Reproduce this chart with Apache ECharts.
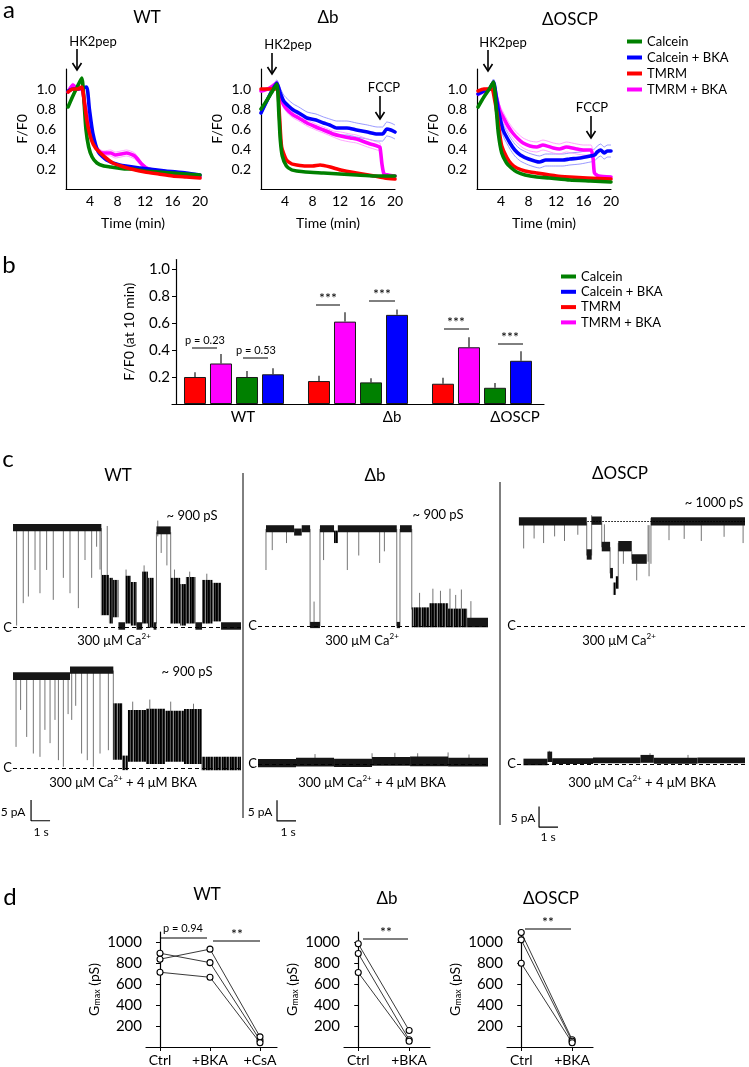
<!DOCTYPE html>
<html><head><meta charset="utf-8">
<script src="https://cdn.jsdelivr.net/npm/echarts@6/dist/echarts.min.js"></script>
<style>html,body{margin:0;padding:0;background:#fff}#c{width:749px;height:1067px}</style>
</head><body><div id="c"></div>
<script>
const F = 'Lato, "Open Sans", "DejaVu Sans", sans-serif';
// ---------- panel a : F/F0 time courses ----------
const aNames = ['Calcein', 'Calcein + BKA', 'TMRM', 'TMRM + BKA'];
const aTimeTicks = [4, 8, 12, 16, 20];
const aFTicks = [0.2, 0.4, 0.6, 0.8, 1.0];
const wtCalcein = [[0.8,0.82],[1.5,0.93],[2.2,1.03],[2.8,1.11],[3.1,0.9],[3.4,0.6],[3.8,0.42],[4.3,0.32],[5,0.26],[6,0.23],[7,0.22],[8,0.21],[9,0.2],[10,0.2],[12,0.18],[14,0.17],[16,0.16],[18,0.15],[20,0.14]];
const wtCalceinBKA = [[0.8,0.98],[1.5,1.0],[2.2,1.0],[2.8,1.01],[3.5,1.02],[3.9,0.8],[4.4,0.56],[5.2,0.37],[6.4,0.29],[8.3,0.24],[11.3,0.21],[15,0.18],[18,0.16],[20,0.14]];
const wtTMRM = [[0.8,0.97],[1.5,1.0],[2.2,1.0],[2.8,1.02],[3.2,0.85],[3.6,0.66],[4.2,0.49],[4.8,0.41],[5.5,0.36],[6.5,0.3],[7.3,0.26],[8.5,0.23],[10,0.2],[12,0.17],[14,0.15],[16,0.13],[18,0.12],[20,0.11]];
const wtTMRMBKA = [[0.8,0.97],[1.5,1.04],[2.2,1.0],[2.8,1.0],[3.3,0.82],[4,0.6],[4.6,0.45],[5.3,0.38],[6,0.36],[7,0.36],[7.7,0.34],[8.5,0.35],[9.3,0.36],[10.5,0.33],[11.5,0.25],[12.5,0.2],[14,0.18],[16,0.16],[18,0.14],[20,0.12]];
const wtTMRMBKAsem = [0.01,0.02,0.01,0.01,0.02,0.02,0.02,0.02,0.02,0.03,0.03,0.03,0.03,0.03,0.02,0.01,0.01,0.01,0.01,0.01];
const dbCalcein = [[0.5,0.8],[1.2,0.87],[2,0.96],[2.8,1.05],[3.1,0.75],[3.3,0.5],[3.6,0.33],[4.2,0.23],[5,0.19],[5.7,0.18],[7,0.17],[9.6,0.16],[12,0.15],[14.4,0.14],[17,0.13],[20,0.13]];
const dbCalceinBKA = [[0.5,0.76],[1.2,0.86],[2,0.97],[2.8,1.06],[3.3,0.96],[3.8,0.88],[4.5,0.83],[5.2,0.79],[6,0.76],[7.2,0.71],[8.5,0.69],[9.6,0.66],[10.5,0.64],[11.5,0.61],[13,0.61],[14.4,0.59],[16,0.57],[17.4,0.55],[18.2,0.55],[18.8,0.6],[19.4,0.59],[20,0.57]];
const dbCalceinBKAsem = [0.02,0.03,0.03,0.03,0.05,0.06,0.06,0.06,0.06,0.06,0.06,0.06,0.06,0.07,0.07,0.07,0.07,0.07,0.07,0.07,0.07,0.07];
const dbTMRM = [[0.5,1.0],[1.5,1.0],[2.5,1.0],[2.9,1.0],[3.2,0.72],[3.5,0.42],[4.2,0.29],[5,0.25],[5.7,0.24],[7,0.23],[8,0.23],[9.1,0.24],[10.6,0.22],[12.1,0.19],[14.4,0.16],[17,0.13],[18.5,0.11],[20,0.1]];
const dbTMRMBKA = [[0.5,0.98],[1.5,1.0],[2.2,1.03],[2.8,1.06],[3.3,0.93],[3.8,0.84],[4.5,0.78],[5.2,0.74],[6,0.71],[7.2,0.66],[8.5,0.62],[9.6,0.59],[11,0.55],[12.1,0.53],[13.5,0.51],[14.4,0.5],[16,0.46],[17.4,0.43],[17.8,0.42],[18.1,0.25],[18.4,0.15],[19,0.14],[20,0.13]];
const dbTMRMBKAsem = [0.01,0.01,0.02,0.02,0.03,0.03,0.03,0.03,0.03,0.03,0.03,0.03,0.03,0.04,0.04,0.04,0.04,0.04,0.04,0.03,0.01,0.01,0.01];
const oscCalcein = [[0.65,0.82],[1.5,0.92],[2.3,1.0],[2.9,1.07],[3.3,0.8],[3.6,0.56],[4.1,0.36],[4.8,0.26],[5.5,0.21],[6.3,0.17],[7.5,0.14],[9.2,0.12],[11,0.11],[14,0.09],[17,0.08],[20,0.07]];
const oscCalceinBKA = [[0.65,0.95],[1.5,0.98],[2.3,1.0],[2.9,1.07],[3.3,0.92],[3.6,0.79],[4.3,0.59],[5.3,0.46],[6,0.39],[6.8,0.34],[8,0.3],[9.6,0.27],[10.5,0.29],[11.6,0.29],[13,0.29],[14,0.3],[15.5,0.31],[17,0.33],[17.6,0.34],[18,0.37],[18.5,0.39],[19,0.36],[19.5,0.38],[20,0.38]];
const oscCalceinBKAsem = [0.02,0.02,0.02,0.03,0.04,0.05,0.06,0.06,0.06,0.06,0.06,0.06,0.06,0.06,0.06,0.06,0.06,0.06,0.06,0.06,0.06,0.06,0.06,0.06];
const oscTMRM = [[0.65,0.98],[1.5,1.0],[2.3,1.0],[2.7,1.0],[3.1,0.88],[3.4,0.76],[3.8,0.55],[4.1,0.43],[4.8,0.32],[5.5,0.25],[6.3,0.21],[7.5,0.18],[9.2,0.16],[12.1,0.13],[14,0.12],[16.5,0.11],[20,0.1]];
const oscTMRMBKA = [[0.65,0.95],[1.5,0.98],[2.3,1.0],[2.9,1.05],[3.3,0.93],[3.8,0.79],[4.3,0.72],[5,0.63],[5.7,0.56],[6.5,0.5],[7.2,0.46],[8.2,0.43],[9.2,0.42],[10.1,0.44],[11.6,0.41],[12.5,0.4],[13.5,0.42],[15,0.4],[16,0.39],[17.1,0.39],[17.4,0.3],[17.6,0.16],[18.2,0.13],[20,0.12]];
const oscTMRMBKAsem = [0.02,0.02,0.02,0.03,0.04,0.05,0.05,0.05,0.05,0.05,0.05,0.05,0.05,0.05,0.05,0.05,0.05,0.05,0.05,0.05,0.03,0.01,0.01,0.01];

// ---------- panel b : F/F0 at 10 min ----------
const bGroups = ['WT', 'Δb', 'ΔOSCP'];
const bSeriesNames = ['TMRM', 'TMRM + BKA', 'Calcein', 'Calcein + BKA'];
const bTMRM = [0.20, 0.17, 0.15];
const bTMRMerr = [0.035, 0.04, 0.045];
const bTMRMBKA = [0.30, 0.61, 0.42];
const bTMRMBKAerr = [0.07, 0.07, 0.075];
const bCalcein = [0.20, 0.16, 0.12];
const bCalceinErr = [0.045, 0.03, 0.035];
const bCalceinBKA = [0.22, 0.66, 0.32];
const bCalceinBKAerr = [0.045, 0.04, 0.07];
const bTicks = [0.2, 0.4, 0.6, 0.8, 1.0];

// ---------- panel c : single-channel traces (time s, current pA) ----------
// bands: [t0, t1, low, high] dense/noisy current levels; spikes: [t, from, to]
const wtTopBands = [[0,4.65,23.2,25.0],[4.65,5.05,3.0,12.7],[5.05,5.25,1.0,12.0],[5.25,5.55,2.5,11.5],[5.55,5.9,-0.5,1.3],[5.9,6.2,1.0,12.5],[6.2,6.5,0.5,11.0],[6.5,6.8,-0.5,1.3],[6.8,7.1,1.0,13.5],[7.1,7.4,0.0,12.0],[7.4,7.55,-0.5,1.3],[7.55,8.3,22.5,24.4],[8.3,8.8,1.0,12.0],[8.8,9.1,0.5,10.5],[9.1,9.6,1.0,12.2],[9.6,9.95,-0.5,1.3],[9.95,10.5,1.0,11.5],[10.5,10.95,1.5,10.8],[10.95,12,-0.5,1.3]];
const wtTopSpikes = [[0.19,24,0.5],[0.54,24,5.9],[0.81,24,7.5],[1.16,24,13.9],[1.42,24,8.3],[1.77,24,13.9],[2.12,24,6.7],[2.65,24,12],[3.0,24,8.3],[3.44,24,4.7],[3.79,24,16.3],[4.14,24,12],[4.4,24,19.5],[4.58,24,14],[4.65,24,3],[4.96,24.5,10],[5.95,14,1],[6.9,15,2],[7.55,1,23],[7.62,25.8,22],[7.8,23,18],[8.1,23,15],[8.3,23,1],[8.5,14,1],[9.3,13.5,1],[10.2,13,1]];
const wtBotBands = [[0,3.0,21.2,23.1],[3.0,5.28,22.7,24.5],[5.28,5.75,2.0,15.6],[5.75,6.05,-0.5,3.0],[6.05,7.0,1.5,14.0],[7.0,8.0,1.0,14.3],[8.0,9.0,1.5,13.8],[9.0,9.93,1.0,14.2],[9.93,12,-0.5,2.7]];
const wtBotSpikes = [[0.16,22,5.1],[0.4,22,14],[0.72,22,7.5],[1.07,22,3.5],[1.42,22,2.7],[1.68,22,9.2],[1.95,22,6],[2.21,22,11.6],[2.39,22,1.9],[2.65,22,0.3],[2.9,22,13],[3.09,23.5,11.6],[3.3,23,15],[3.61,23.5,3.5],[3.91,23.5,1.9],[4.23,23.5,0.3],[4.58,23.5,3.5],[5.02,23.5,4.3],[5.28,23.5,2],[6.3,16,2],[7.2,16.5,2],[8.3,16,2],[9.5,15.5,2]];
const dbTopBands = [[0.42,1.9,22.6,24.3],[1.9,2.3,21.8,23.5],[2.3,2.74,22.6,24.3],[2.74,3.26,-0.5,1.0],[3.26,4.0,22.6,24.3],[4.0,4.2,20.0,23.0],[4.2,7.3,22.6,24.3],[7.3,7.47,-0.5,1.0],[7.47,8.09,22.6,24.3],[8.09,9.0,-0.3,4.5],[9.0,10.0,-0.3,5.5],[10.0,11.0,-0.3,4.2],[11.0,12.1,-0.3,2.0]];
const dbTopSpikes = [[0.42,23.4,13.5],[0.75,23,18.3],[1.5,23,20],[2.74,23.4,0],[2.95,0,5.9],[3.26,0,23.4],[3.45,23,15.9],[4.7,23,13.5],[5.3,23,17],[6.4,23,15.2],[6.65,23,18],[7.3,23.4,0],[7.47,0,23.4],[8.09,23.4,4],[8.5,8,0],[9.2,9,0],[9.6,8.5,0],[10.1,9,0],[10.4,7.5,0],[10.7,8.8,0],[11.2,6,0]];
const dbBotBands = [[0,2,-0.8,1.2],[2,4,-0.6,1.5],[4,6,-0.7,1.3],[6,8,-0.4,1.7],[8,10,-0.5,1.8],[10,12.1,-0.6,1.5]];
const dbBotSpikes = [[3,1.3,2.4],[6,1.3,2.6],[7.2,1.3,2.7],[8.4,1.3,2.6],[10,1.3,2.8],[11.1,1.3,2.3]];
const oscTopBands = [[0.1,3.67,24.2,26.2],[3.67,3.93,16.0,18.5],[3.93,4.46,24.4,26.4],[4.46,4.9,18.0,20.3],[4.9,5.05,11.5,14.0],[5.05,5.2,7.5,10.5],[5.2,5.33,9.0,12.0],[5.33,6.04,18.0,20.5],[6.04,6.83,15.0,17.3],[7.05,12,24.2,26.2]];
const oscTopSpikes = [[0.35,25,18.7],[0.9,25,21.1],[1.4,25,20],[1.98,25,21.6],[2.5,25,20.5],[3.2,25,22],[3.67,25,17],[3.93,17,26.7],[4.46,25,19],[4.6,19,24.5],[4.9,19,12.7],[5.33,9,20],[5.6,18.5,15],[6.04,18,16],[6.3,15,11],[6.9,15.5,24.3],[6.95,24.3,12],[7.05,15,26],[8.0,25,20.7],[8.8,25,21],[9.7,25,20.5],[10.9,25,21.5],[11.9,25,20]];
const oscOpenLevel = [3.7, 12, 25.3];
const oscBotBands = [[0.34,1.6,-0.3,1.3],[1.6,1.85,0.5,3.0],[1.85,4,0,1.4],[4,6.5,0.2,1.6],[6.5,7.2,0.3,2.2],[7.2,9.5,0.1,1.5],[9.5,12,0.2,1.6]];
const oscBotSpikes = [[1.7,2.5,3.2],[7.0,1.8,2.6],[9.0,1.3,2.2]];
const scaleBarPA = 5, scaleBarS = 1;
const wtScaleAnchor = [0.95, -7.7];
const dbScaleAnchor = [1.0, -8.7];
const oscScaleAnchor = [1.16, -10.2];

// ---------- panel d : Gmax ----------
const dCatsWT = ['Ctrl', '+BKA', '+CsA'];
const dCats = ['Ctrl', '+BKA'];
const dTicks = [200, 400, 600, 800, 1000];
const dWTctrl = [897, 840, 715];
const dWTbka = [807, 936, 667];
const dWTcsa = [65, 97, 40];
const dDbCtrl = [987, 895, 713];
const dDbBka = [158, 70, 55];
const dOscCtrl = [1095, 1025, 801];
const dOscBka = [70, 55, 40];

// ================= build =================
const COL = {'Calcein':'#008000','Calcein + BKA':'#0000ff','TMRM':'#ff0000','TMRM + BKA':'#ff00ff'};
const SEMCOL = {'Calcein + BKA':'#7f7fff','TMRM + BKA':'#ff8cff'};
const grids = [], xAxes = [], yAxes = [], series = [];
const black = '#000';
function baseAxis(extra){ return Object.assign({axisLine:{show:true,lineStyle:{color:black,width:1.2}}, splitLine:{show:false}, nameMoveOverlap:false}, extra); }

// striped texture for noisy current bands (style only)
const tex = document.createElement('canvas');
tex.width = 8; tex.height = 2;
(function(){ const c = tex.getContext('2d'); const cols = ['#000','#111','#555','#000','#222','#8a8a8a','#000','#333'];
  cols.forEach((col,i)=>{ c.fillStyle = col; c.fillRect(i,0,1,2); }); })();
const texFill = {image:tex, repeat:'repeat'};

// panel a
const aPanels = [
  {left:66, d:{'Calcein':wtCalcein,'Calcein + BKA':wtCalceinBKA,'TMRM':wtTMRM,'TMRM + BKA':wtTMRMBKA}, sem:{'TMRM + BKA':wtTMRMBKAsem}, order:['TMRM + BKA','Calcein + BKA','Calcein','TMRM']},
  {left:261, d:{'Calcein':dbCalcein,'Calcein + BKA':dbCalceinBKA,'TMRM':dbTMRM,'TMRM + BKA':dbTMRMBKA}, sem:{'Calcein + BKA':dbCalceinBKAsem,'TMRM + BKA':dbTMRMBKAsem}, order:['TMRM + BKA','Calcein + BKA','TMRM','Calcein']},
  {left:477, d:{'Calcein':oscCalcein,'Calcein + BKA':oscCalceinBKA,'TMRM':oscTMRM,'TMRM + BKA':oscTMRMBKA}, sem:{'Calcein + BKA':oscCalceinBKAsem,'TMRM + BKA':oscTMRMBKAsem}, order:['TMRM + BKA','Calcein + BKA','TMRM','Calcein']}
];
aPanels.forEach((p, i) => {
  const g = grids.length;
  grids.push({left:p.left, top:69, width:134, height:120, outerBoundsMode:'none'});
  xAxes.push(baseAxis({type:'value', gridIndex:g, min:0.5, max:20, axisTick:{show:false},
    axisLabel:{customValues:aTimeTicks, color:black, fontSize:14, fontFamily:F, margin:5},
    name:'Time (min)', nameLocation:'middle', nameGap:27, nameTextStyle:{color:black, fontSize:14, fontFamily:F}}));
  yAxes.push(baseAxis({type:'value', gridIndex:g, min:0, max:1.2, axisTick:{show:false},
    axisLabel:{customValues:aFTicks, color:black, fontSize:14, fontFamily:F, margin:10, formatter:v=>v.toFixed(1)},
    name:'F/F0', nameLocation:'middle', nameRotate:90, nameGap:37, nameTextStyle:{color:black, fontSize:14, fontFamily:F}}));
  Object.keys(p.sem).forEach(n => {
    const sem = p.sem[n];
    ['up','lo'].forEach(k => series.push({type:'line', name:n+' sem', xAxisIndex:g, yAxisIndex:g, showSymbol:false, silent:true, smooth:0.2, z:1,
      lineStyle:{width:0.8, color:SEMCOL[n]}, data:p.d[n].map((pt,j)=>[pt[0], k==='up'? pt[1]+sem[j] : pt[1]-sem[j]])}));
  });
  p.order.forEach((n, k) => series.push({type:'line', name:n, xAxisIndex:g, yAxisIndex:g, showSymbol:false, smooth:0.2, color:COL[n], z:3+k,
    lineStyle:{width:3.6, color:COL[n], cap:'round', join:'round'}, data:p.d[n]}));
});

// panel b
const gb = grids.length;
const bLabelShift = [9, 34, 33];
grids.push({left:172, top:259.5, width:372, height:144.5, outerBoundsMode:'none'});
xAxes.push(baseAxis({type:'category', gridIndex:gb, axisTick:{show:false},
  data:bGroups.map((n,i)=>({value:n, textStyle:{padding:[0,0,0,2*bLabelShift[i]]}})),
  axisLabel:{color:black, fontSize:15, fontFamily:F, margin:6}}));
yAxes.push(baseAxis({type:'value', gridIndex:gb, min:0, max:1.07, offset:-4,
  axisTick:{show:true, length:4, customValues:bTicks, lineStyle:{color:black}},
  axisLabel:{customValues:bTicks, color:black, fontSize:15, fontFamily:F, margin:6, formatter:v=>v.toFixed(1)},
  name:'F/F0 (at 10 min)', nameLocation:'middle', nameRotate:90, nameGap:40, nameTextStyle:{color:black, fontSize:14, fontFamily:F}}));
const bVals = {'TMRM':[bTMRM,bTMRMerr], 'TMRM + BKA':[bTMRMBKA,bTMRMBKAerr], 'Calcein':[bCalcein,bCalceinErr], 'Calcein + BKA':[bCalceinBKA,bCalceinBKAerr]};
const barW = 22, barGapPx = 4;
const errData = [];
bSeriesNames.forEach((n, si) => {
  series.push({type:'bar', name:n, xAxisIndex:gb, yAxisIndex:gb, data:bVals[n][0], barWidth:barW, barGap:(barGapPx/barW*100).toFixed(1)+'%',
    color:COL[n], itemStyle:{color:COL[n], borderColor:'#1a1a1a', borderWidth:1}});
  bVals[n][0].forEach((v, ci) => errData.push([ci, si, v, bVals[n][1][ci]]));
});
series.push({type:'custom', xAxisIndex:gb, yAxisIndex:gb, data:errData, encode:{x:0, y:2}, z:1, silent:true,
  renderItem:(params, api) => {
    const base = api.coord([api.value(0), api.value(2)]);
    const top = api.coord([api.value(0), api.value(2) + api.value(3)]);
    const x = base[0] + (api.value(1) - 1.5) * (barW + barGapPx);
    return {type:'line', shape:{x1:x, y1:base[1], x2:x, y2:top[1]}, style:{stroke:'#1a1a1a', lineWidth:1.2}};
  }});

// panel c
const pxPerPA = 4.15;
const cPanels = [
  {left:13, top:515.6, w:228, xmax:12, ymin:-3, bands:wtTopBands, spikes:wtTopSpikes},
  {left:13, top:656, w:228, xmax:12, ymin:-16, bands:wtBotBands, spikes:wtBotSpikes, scale:wtScaleAnchor},
  {left:258, top:514, w:230, xmax:12.1, ymin:-3, bands:dbTopBands, spikes:dbTopSpikes},
  {left:258, top:652, w:230, xmax:12.1, ymin:-16, bands:dbBotBands, spikes:dbBotSpikes, scale:dbScaleAnchor},
  {left:517, top:514, w:228, xmax:12, ymin:-3, bands:oscTopBands, spikes:oscTopSpikes, dotted:oscOpenLevel},
  {left:517, top:652, w:228, xmax:12, ymin:-16, bands:oscBotBands, spikes:oscBotSpikes, scale:oscScaleAnchor}
];
cPanels.forEach(p => {
  const g = grids.length;
  const ymax = 27;
  grids.push({left:p.left, top:p.top, width:p.w, height:(ymax - p.ymin) * pxPerPA, outerBoundsMode:'none'});
  xAxes.push({type:'value', gridIndex:g, min:0, max:p.xmax, show:false});
  yAxes.push({type:'value', gridIndex:g, min:p.ymin, max:ymax, show:false});
  series.push({type:'custom', xAxisIndex:g, yAxisIndex:g, data:p.bands, encode:{x:[0,1], y:[2,3]}, silent:true, z:3,
    renderItem:(params, api) => {
      const a = api.coord([api.value(0), api.value(3)]);
      const b = api.coord([api.value(1), api.value(2)]);
      const h = b[1] - a[1];
      return {type:'rect', shape:{x:a[0], y:a[1], width:Math.max(b[0]-a[0], 1), height:Math.max(h, 1)}, style:{fill: h > 12 ? texFill : '#161616'}};
    },
    markLine:{silent:true, symbol:['none','none'], animation:false,
      lineStyle:{type:[4,3], color:black, width:1},
      label:{show:true, position:'start', formatter:'C', color:black, fontSize:13, fontFamily:F, distance:1},
      data:[{yAxis:0}]}});
  const sp = {type:'custom', xAxisIndex:g, yAxisIndex:g, data:p.spikes, encode:{x:0, y:[1,2]}, silent:true, z:2,
    renderItem:(params, api) => {
      const a = api.coord([api.value(0), api.value(1)]);
      const b = api.coord([api.value(0), api.value(2)]);
      return {type:'line', shape:{x1:a[0], y1:a[1], x2:a[0], y2:b[1]}, style:{stroke:'#666', lineWidth:0.9}};
    }};
  if (p.dotted) sp.markLine = {silent:true, symbol:['none','none'], animation:false, label:{show:false},
    lineStyle:{type:[1.5,1.5], color:black, width:1},
    data:[[{coord:[p.dotted[0], p.dotted[2]]}, {coord:[p.dotted[1], p.dotted[2]]}]]};
  series.push(sp);
  if (p.scale) {
    const [t, y] = p.scale;
    series.push({type:'line', xAxisIndex:g, yAxisIndex:g, showSymbol:false, silent:true, clip:false,
      lineStyle:{color:black, width:1.2}, data:[[t, y], [t, y - scaleBarPA], [t + scaleBarS, y - scaleBarPA]]});
  }
});

// panel d
const dPanels = [
  {left:146, w:131, max:2.34, cats:dCatsWT, subj:[dWTctrl, dWTbka, dWTcsa]},
  {left:344, w:86, max:1.41, cats:dCats, subj:[dDbCtrl, dDbBka]},
  {left:507, w:86, max:1.41, cats:dCats, subj:[dOscCtrl, dOscBka]}
];
dPanels.forEach(p => {
  const g = grids.length;
  grids.push({left:p.left, top:932, width:p.w, height:115, outerBoundsMode:'none'});
  const idx = p.cats.map((c, i) => i);
  xAxes.push(baseAxis({type:'value', gridIndex:g, min:-0.28, max:p.max,
    axisTick:{show:true, length:4, customValues:idx, lineStyle:{color:black}},
    axisLabel:{customValues:idx, formatter:v=>p.cats[Math.round(v)], color:black, fontSize:14, fontFamily:F, margin:6}}));
  yAxes.push(baseAxis({type:'value', gridIndex:g, min:0, max:1100,
    axisTick:{show:true, length:4, customValues:dTicks, lineStyle:{color:black}},
    axisLabel:{customValues:dTicks, formatter:v=>String(v), color:black, fontSize:15, fontFamily:F, margin:4},
    name:'{n|G}{s|max}{n| (pS)}', nameLocation:'middle', nameRotate:90, nameGap:44,
    nameTextStyle:{color:black, fontFamily:F, fontSize:14, rich:{n:{fontSize:14, fontFamily:F, color:black}, s:{fontSize:9, fontFamily:F, color:black, verticalAlign:'bottom', lineHeight:16}}}}));
  p.subj[0].forEach((v, k) => {
    series.push({type:'line', xAxisIndex:g, yAxisIndex:g, symbol:'circle', symbolSize:6, showSymbol:true, silent:true, z:4,
      itemStyle:{color:'#fff', borderColor:black, borderWidth:1.1},
      lineStyle:{color:'#222', width:0.9},
      data:p.subj.map((arr, ci) => [ci, arr[k]])});
  });
});

// ---------- annotations ----------
function T(x, y, text, size, extra){ return {type:'text', x, y, silent:true, style:Object.assign({text, fontSize:size, fontFamily:F, fill:black, align:'center', verticalAlign:'middle'}, extra||{})}; }
function L(x1, y1, x2, y2, w){ return {type:'line', silent:true, shape:{x1,y1,x2,y2}, style:{stroke:black, lineWidth:w||1}}; }
function arrow(x, y1, y2){ return {type:'group', silent:true, children:[L(x,y1,x,y2,1.6), {type:'polyline', shape:{points:[[x-4.5,y2-7],[x,y2],[x+4.5,y2-7]]}, style:{stroke:black, lineWidth:1.6, fill:null}}]}; }
const supRich = {s:{fontSize:8, fontFamily:F, fill:black, verticalAlign:'top'}, n:{fontSize:13, fontFamily:F, fill:black}};
function CA(x, y, withBKA){ return T(x, y, '{n|300 μM Ca}{s|2+}' + (withBKA ? '{n| + 4 μM BKA}' : ''), 13, {rich:supRich, lineHeight:17}); }
const graphic = [
  T(9, 10, 'a', 24), T(9, 265, 'b', 24), T(8, 459, 'c', 24), T(10, 897, 'd', 24),
  T(147, 18, 'WT', 17), T(328, 18, 'Δb', 17), T(570, 20, 'ΔOSCP', 17),
  T(93, 42, 'HK2pep', 13), arrow(77, 49, 70),
  T(288, 45, 'HK2pep', 13), arrow(272, 53, 74),
  T(384, 88, 'FCCP', 13), arrow(380, 96, 119),
  T(503, 43, 'HK2pep', 13), arrow(488, 50, 71),
  T(592, 108, 'FCCP', 13), arrow(591, 116, 138),
  L(192, 348, 217, 348), T(205, 340, 'p = 0.23', 11),
  L(243, 358, 268, 358), T(256, 350, 'p = 0.53', 11),
  L(316, 305, 340, 305), T(328, 298, '***', 14),
  L(369, 301, 395, 301), T(382, 294, '***', 14),
  L(444, 329, 469, 329), T(456, 322, '***', 14),
  L(498, 344, 523, 344), T(510, 337, '***', 14),
  T(118, 476, 'WT', 17), T(375, 476, 'Δb', 17), T(620, 474, 'ΔOSCP', 17),
  T(192, 516, '~ 900 pS', 13), T(187, 672, '~ 900 pS', 13), T(438, 515, '~ 900 pS', 13), T(714, 503, '~ 1000 pS', 13),
  CA(114, 641, false), CA(362, 641, false), CA(619, 641, false),
  CA(123, 783, true), CA(372, 783, true), CA(642, 783, true),
  T(13, 812, '5 pA', 12), T(41, 832, '1 s', 12),
  T(260, 812, '5 pA', 12), T(288, 832, '1 s', 12),
  T(523, 818, '5 pA', 12), T(548, 837, '1 s', 12),
  L(243, 473, 243, 818), L(500, 482, 500, 825),
  T(207, 895, 'WT', 17), T(387, 899, 'Δb', 17), T(551, 899, 'ΔOSCP', 17),
  L(161, 938, 207, 938), T(183, 928, 'p = 0.94', 11),
  L(213, 941, 260, 941), T(237, 934, '**', 14),
  L(363, 939, 408, 939), T(386, 932, '**', 14),
  L(525, 929, 571, 929), T(548, 922, '**', 14)
];

const legendBase = {data:aNames, orient:'vertical', icon:'rect', itemWidth:15, itemHeight:4, selectedMode:false,
  textStyle:{fontSize:13, fontFamily:F, color:black, lineHeight:13}, padding:0};
const chart = echarts.init(document.getElementById('c'), null, {renderer:'canvas'});
chart.setOption({
  animation:false,
  backgroundColor:'#fff',
  textStyle:{fontFamily:F, color:black},
  legend:[Object.assign({left:627, top:35, itemGap:3}, legendBase), Object.assign({left:561, top:270, itemGap:2.3}, legendBase)],
  grid:grids, xAxis:xAxes, yAxis:yAxes, series, graphic
});
</script></body></html>
